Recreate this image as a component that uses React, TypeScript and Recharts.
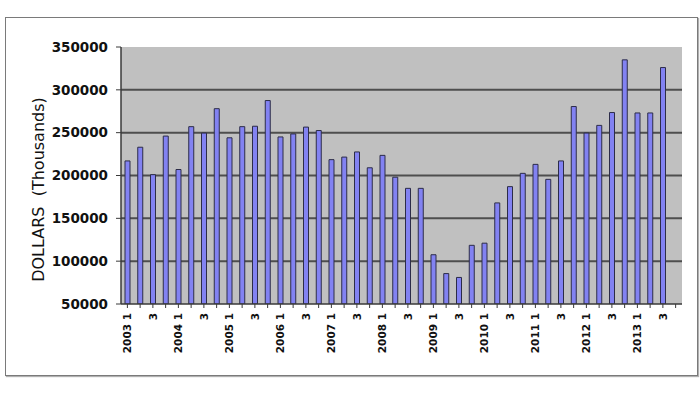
import React from "react";
import {
  Bar,
  BarChart,
  CartesianGrid,
  Label,
  XAxis,
  YAxis,
} from "recharts";

const years = [2003, 2004, 2005, 2006, 2007, 2008, 2009, 2010, 2011, 2012, 2013];
const quarters = [1, 2, 3, 4];

// quarterly values, 2003 Q1 .. 2013 Q4 (last quarter not reported)
const dollars: (number | null)[] = [
  217000, 233000, 201000, 246000,
  207000, 257000, 249500, 278000,
  244000, 257000, 257500, 287500,
  245000, 248500, 256500, 252500,
  218500, 221500, 227500, 209000,
  223500, 198000, 185000, 185000,
  107500, 85500, 81000, 118500,
  121000, 168000, 187000, 202500,
  213000, 195500, 217000, 280500,
  249500, 258500, 273500, 335000,
  273000, 273000, 326000, null,
];

const yTicks = [50000, 100000, 150000, 200000, 250000, 300000, 350000];
const gridValues = [100000, 150000, 200000, 250000, 300000];

const data = years
  .flatMap((year) => quarters.map((q) => ({ year, q })))
  .map((p, i) => ({
    period: `${p.year} Q${p.q}`,
    label: p.q === 1 ? `${p.year} 1` : p.q === 3 ? "3" : "",
    value: dollars[i],
  }));

const FONT = "'DejaVu Sans', Verdana, sans-serif";

const QuarterTick = ({ x, y, index }: any) => {
  const text = data[index]?.label ?? "";
  if (!text) return null;
  return (
    <text
      x={x}
      y={y}
      transform={`rotate(-90, ${x}, ${y})`}
      textAnchor="end"
      dominantBaseline="central"
      fontFamily={FONT}
      fontWeight="bold"
      fontSize={10.5}
      fill="#111"
    >
      {text}
    </text>
  );
};

export default function App() {
  return (
    <div
      style={{
        position: "absolute",
        left: 0,
        top: 0,
        width: 700,
        height: 394,
        background: "#fff",
      }}
    >
      <div
        style={{
          position: "absolute",
          left: 5,
          top: 17,
          width: 691,
          height: 357,
          border: "1px solid #7a7a7a",
          boxShadow: "1px 1px 1px #b0b0b0",
        }}
      />
      <div style={{ position: "absolute", left: 0, top: 0 }}>
        <BarChart
          width={700}
          height={394}
          data={data}
          margin={{ top: 47, right: 18, left: 0, bottom: 30 }}
        >
          <CartesianGrid
            vertical={false}
            horizontalValues={gridValues}
            fill="#c0c0c0"
            fillOpacity={1}
            stroke="#4e4e4e"
            strokeWidth={2}
          />
          <XAxis
            dataKey="period"
            interval={0}
            tick={<QuarterTick />}
            tickSize={4}
            tickMargin={5}
            height={60}
            axisLine={{ stroke: "#3a3a3a", strokeWidth: 1.5 }}
            tickLine={{ stroke: "#3a3a3a" }}
          />
          <YAxis
            width={121}
            domain={[50000, 350000]}
            ticks={yTicks}
            allowDataOverflow
            tickSize={5}
            tickMargin={8}
            axisLine={{ stroke: "#3a3a3a", strokeWidth: 1.5 }}
            tickLine={{ stroke: "#3a3a3a" }}
            tick={{
              fontFamily: FONT,
              fontWeight: "bold",
              fontSize: 13.5,
              fill: "#111",
            }}
          >
            <Label
              content={({ viewBox }: any) => {
                const cx = viewBox.x + 38;
                const cy = viewBox.y + viewBox.height / 2 + 14;
                return (
                  <text
                    x={cx}
                    y={cy}
                    transform={`rotate(-90, ${cx}, ${cy})`}
                    textAnchor="middle"
                    dominantBaseline="central"
                    fontFamily={FONT}
                    fontSize={16}
                    fill="#111"
                    style={{ whiteSpace: "pre" }}
                  >
                    DOLLARS  (Thousands)
                  </text>
                );
              }}
            />
          </YAxis>
          <Bar
            dataKey="value"
            barSize={5}
            fill="#8282f2"
            stroke="#2c2c48"
            strokeWidth={1}
            isAnimationActive={false}
          />
        </BarChart>
      </div>
    </div>
  );
}
